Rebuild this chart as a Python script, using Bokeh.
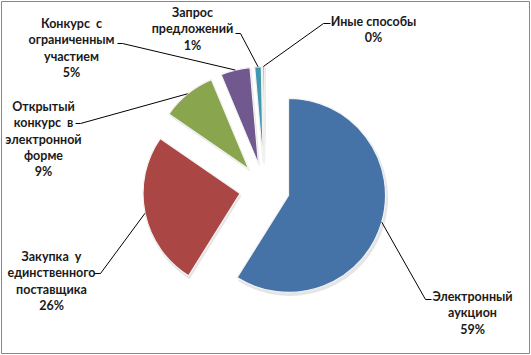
import math
from bokeh.plotting import figure
from bokeh.models import Range1d, ColumnDataSource
from bokeh.core.properties import value
from bokeh.embed import file_html
from bokeh.resources import INLINE

# ---- data ----
categories = [
    "Электронный аукцион",
    "Закупка у единственного поставщика",
    "Открытый конкурс в электронной форме",
    "Конкурс с ограниченным участием",
    "Запрос предложений",
    "Иные способы",
]
shares = [58.9, 25.7, 9.1, 4.9, 1.1, 0.3]
label_lines = [
    ["Электронный", "аукцион"],
    ["Закупка \u00a0у", "единственного", "поставщика"],
    ["Открытый", "конкурс \u00a0в", "электронной", "форме"],
    ["Конкурс \u00a0с", "ограниченным", "участием"],
    ["Запрос", "предложений"],
    ["Иные способы"],
]
colors = ["#4572A7", "#AA4643", "#89A54E", "#71588F", "#4198AF", "#DB843D"]

# ---- layout (screen px, y down) ----
W, H = 531, 355
CX, CY = 264, 188
R = 97
EXPLODE = 25
LINE_H = 16.3
label_pos = [(472, 296), (51, 256), (43, 106), (71, 23), (192, 12), (373, 21)]
elbows = [((425, 299), (431, 299)), ((100, 273), (94, 273)), ((80, 123), (75, 123)),
          ((122, 43), (117, 43)), ((240, 33), (235, 33)), ((323, 23), (330, 23))]

def sy(y):
    return H - y

p = figure(width=W, height=H, x_range=Range1d(0, W), y_range=Range1d(0, H),
           output_backend="svg", toolbar_location=None, min_border=0)
p.axis.visible = False
p.grid.visible = False
p.outline_line_color = None
p.background_fill_color = "white"
p.border_fill_color = "white"

total = sum(shares)
theta = 0.0
wx, wy, sa, ea, leader_start = [], [], [], [], []
for s in shares:
    t1 = theta
    t2 = theta + s / total * 360.0
    tm = math.radians((t1 + t2) / 2)
    ax = CX + EXPLODE * math.sin(tm)
    ay = sy(CY) + EXPLODE * math.cos(tm)
    wx.append(ax)
    wy.append(ay)
    sa.append(math.radians(90 - t1))
    ea.append(math.radians(90 - t2))
    leader_start.append((ax + R * math.sin(tm), ay + R * math.cos(tm)))
    theta = t2

src = ColumnDataSource(dict(x=wx, y=wy, sa=sa, ea=ea, color=colors,
                            sx=[v + 1.5 for v in wx], syy=[v - 2.5 for v in wy]))
# soft shadow
p.wedge(x="sx", y="syy", radius=R + 1, start_angle="sa", end_angle="ea",
        direction="clock", source=src, fill_color="#000000", fill_alpha=0.10,
        line_color=None)
p.wedge(x="x", y="y", radius=R, start_angle="sa", end_angle="ea",
        direction="clock", source=src, fill_color="color", line_color="#f2f2f2",
        line_width=1.2)

# leader lines
for (x0, y0), ((ex, ey), (hx, hy)) in zip(leader_start, elbows):
    p.line([x0, ex, hx], [y0, sy(ey), sy(hy)], line_color="#000000", line_width=1)

# labels
tx, ty, tt = [], [], []
for lines, s, (cx, cy) in zip(label_lines, shares, label_pos):
    all_lines = lines + [f"{round(s / total * 100)}%"]
    for i, ln in enumerate(all_lines):
        tx.append(cx)
        ty.append(sy(cy + i * LINE_H))
        tt.append(ln)
p.text(x=tx, y=ty, text=tt, text_align="center", text_baseline="middle",
       text_font=value("Lato"), text_font_style="bold", text_font_size="12.5px",
       text_color="#1a1a1a")

# chart area border
p.quad(left=[1], right=[529], top=[sy(1)], bottom=[sy(353)], fill_color=None,
       line_color="#878787", line_width=1)

open("out.html", "w").write(file_html(p, INLINE))
